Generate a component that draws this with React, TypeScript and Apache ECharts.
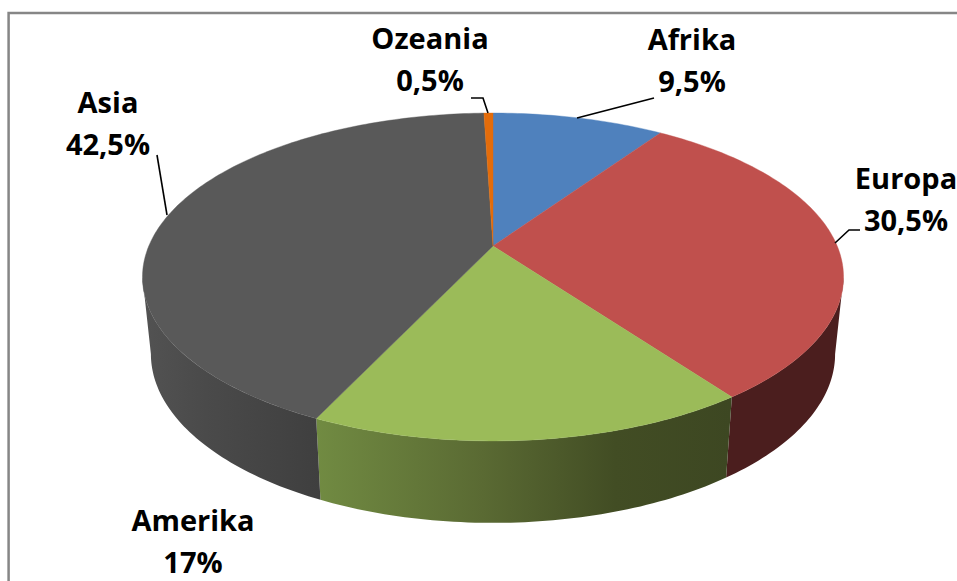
import React, { useEffect, useRef } from "react";
import * as echarts from "echarts";

const categories = ["Afrika", "Europa", "Amerika", "Asia", "Ozeania"];
const shares = [9.5, 30.5, 17, 42.5, 0.5];
const faceColors = ["#4f81bd", "#c0504d", "#9bbb59", "#595959", "#e46c0a"];

// Projection of the tilted disc on to the page
const APEX_X = 493;
const APEX_Y = 246;
const RADIUS_X = 344.2;
const RADIUS_Y = 158.1;
const PERSPECTIVE = -0.189;
const RIM_CENTRE_Y = 277;
const WALL_CENTRE_Y = 354;
const WALL_SCALE_X = 0.976;
const WALL_SCALE_Y = 1.03;
// The wall shows only between the two points where the outline turns
const WALL_START = Math.acos(PERSPECTIVE);
const WALL_END = Math.PI * 2 - WALL_START;

// Label placement, by category index
const labelCentres: number[][] = [
  [692, 59],
  [906, 198],
  [193, 540],
  [108, 122],
  [430, 58],
];
const leaderLines: number[][][] = [
  [[577, 118], [654, 98]],
  [[835, 243], [849, 230], [860, 230]],
  [],
  [[157, 155], [167, 215]],
  [[488, 113], [483, 98], [471, 98]],
];

const toAngle = (share: number) => (share / 100) * Math.PI * 2;
const cumulative = (i: number) => shares.slice(0, i).reduce((a, b) => a + b, 0);

function rimPoint(t: number): number[] {
  const u = Math.sin(t);
  const v = -Math.cos(t);
  const d = 1 + PERSPECTIVE * v;
  return [APEX_X + (RADIUS_X * u) / d, APEX_Y + (RADIUS_Y * v) / d];
}
function wallPoint(t: number): number[] {
  const [x, y] = rimPoint(t);
  return [
    APEX_X + (x - APEX_X) * WALL_SCALE_X,
    WALL_CENTRE_Y + (y - RIM_CENTRE_Y) * WALL_SCALE_Y,
  ];
}
function arcBetween(start: number, end: number, fn: (t: number) => number[]): number[][] {
  const steps = Math.max(4, Math.ceil(((end - start) * 180) / Math.PI));
  const pts: number[][] = [];
  for (let s = 0; s <= steps; s++) pts.push(fn(start + ((end - start) * s) / steps));
  return pts;
}
const sliceStart = (i: number) => toAngle(cumulative(i));
const sliceEnd = (i: number) => toAngle(cumulative(i + 1));

const wallFills: any[] = [
  "#3a3a3a",
  "#4b1e1e",
  new echarts.graphic.LinearGradient(
    316, 0, 731, 0,
    [
      { offset: 0, color: "#718b42" },
      { offset: 0.4, color: "#5a6a33" },
      { offset: 0.72, color: "#424d24" },
      { offset: 1, color: "#3d4722" },
    ],
    true,
  ),
  new echarts.graphic.LinearGradient(
    145, 0, 320, 0,
    [
      { offset: 0, color: "#525252" },
      { offset: 0.35, color: "#4a4a4a" },
      { offset: 1, color: "#3f3f3f" },
    ],
    true,
  ),
  "#3a3a3a",
];

const labelText = (i: number) =>
  `${categories[i]}\n${String(shares[i]).replace(".", ",")}%`;

const seriesData = categories.map((name, i) => ({ name, value: shares[i] }));

export default function App() {
  const ref = useRef<HTMLDivElement>(null);
  useEffect(() => {
    const chart = echarts.init(ref.current!, undefined, { renderer: "svg" });
    chart.setOption({
      animation: false,
      backgroundColor: "#ffffff",
      graphic: {
        elements: [
          {
            type: "rect",
            silent: true,
            z: 0,
            shape: { x: 8.6, y: 13, width: 1000, height: 620 },
            style: { fill: "none", stroke: "#868686", lineWidth: 2.5 },
          },
        ],
      },
      series: [
        {
          type: "custom",
          coordinateSystem: "none",
          silent: true,
          z: 2,
          data: seriesData,
          renderItem: (params: any) => {
            const i = params.dataIndex;
            const start = Math.max(sliceStart(i), WALL_START);
            const end = Math.min(sliceEnd(i), WALL_END);
            if (end <= start) return { type: "group", children: [] };
            const points = [
              ...arcBetween(start, end, rimPoint),
              ...arcBetween(start, end, wallPoint).reverse(),
            ];
            return {
              type: "polygon",
              shape: { points },
              style: { fill: wallFills[i] },
            };
          },
        },
        {
          type: "custom",
          coordinateSystem: "none",
          silent: true,
          z: 3,
          data: seriesData,
          renderItem: (params: any) => {
            const i = params.dataIndex;
            const points = [
              [APEX_X, APEX_Y],
              ...arcBetween(sliceStart(i), sliceEnd(i), rimPoint),
            ];
            return {
              type: "polygon",
              shape: { points },
              style: { fill: faceColors[i], stroke: faceColors[i], lineWidth: 0.4 },
            };
          },
        },
        {
          type: "custom",
          coordinateSystem: "none",
          silent: true,
          z: 4,
          data: seriesData,
          renderItem: (params: any) => {
            const i = params.dataIndex;
            const children: any[] = [
              {
                type: "text",
                x: labelCentres[i][0],
                y: labelCentres[i][1],
                style: {
                  text: labelText(i),
                  fill: "#000000",
                  fontFamily: "Open Sans",
                  fontWeight: "bold",
                  fontSize: 29,
                  lineHeight: 42,
                  align: "center",
                  verticalAlign: "middle",
                },
              },
            ];
            if (leaderLines[i].length) {
              children.push({
                type: "polyline",
                shape: { points: leaderLines[i] },
                style: { fill: "none", stroke: "#000000", lineWidth: 1.6 },
              });
            }
            return { type: "group", children };
          },
        },
      ],
    });
    return () => chart.dispose();
  }, []);
  return (
    <div
      ref={ref}
      style={{ position: "absolute", left: 0, top: 0, width: 957, height: 581 }}
    />
  );
}
